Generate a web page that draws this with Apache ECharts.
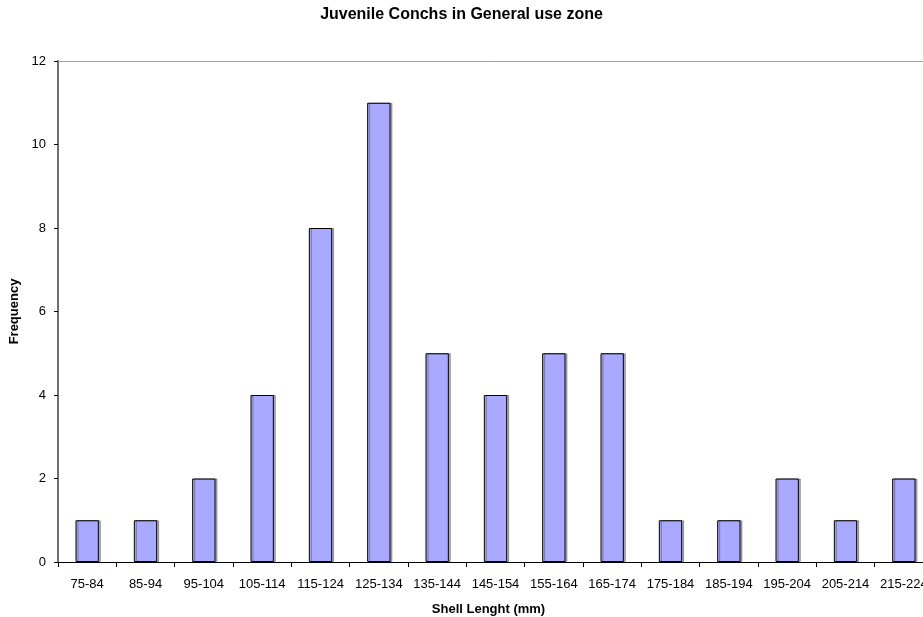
<!DOCTYPE html>
<html>
<head>
<meta charset="utf-8">
<script src="https://cdn.jsdelivr.net/npm/echarts@6/dist/echarts.min.js"></script>
<style>
  html, body { margin: 0; padding: 0; background: #fff; }
  #chart { width: 923px; height: 617px; }
</style>
</head>
<body>
<div id="chart"></div>
<script>
// Shell length classes (mm) and number of juvenile conchs in each
const sizeClasses = ['75-84', '85-94', '95-104', '105-114', '115-124', '125-134', '135-144',
  '145-154', '155-164', '165-174', '175-184', '185-194', '195-204', '205-214', '215-224'];
const frequency = [1, 1, 2, 4, 8, 11, 5, 4, 5, 5, 1, 1, 2, 1, 2];
const yTicks = { min: 0, max: 12, interval: 2 };

const FONT = 'Liberation Sans, Arial, sans-serif';
const chart = echarts.init(document.getElementById('chart'), null, { renderer: 'canvas' });

chart.setOption({
  backgroundColor: '#ffffff',
  animation: false,
  title: {
    text: 'Juvenile Conchs in General use zone',
    left: 'center',
    top: 2,
    textStyle: { fontFamily: FONT, fontSize: 16, fontWeight: 'bold', color: '#000' }
  },
  // plot area runs past the right edge of the canvas
  grid: { left: 58, width: 875, top: 61, height: 501, containLabel: false, outerBoundsMode: 'none' },
  xAxis: [
    {
      type: 'category',
      data: sizeClasses,
      name: 'Shell Lenght (mm)',
      nameLocation: 'middle',
      nameGap: 41,
      nameTextStyle: { fontFamily: FONT, fontSize: 13, fontWeight: 'bold', color: '#000', padding: [0, 14, 0, 0] },
      axisLine: { lineStyle: { color: '#000', width: 1 } },
      axisTick: { show: true, alignWithLabel: false, length: 5, lineStyle: { color: '#000' } },
      axisLabel: { fontFamily: FONT, fontSize: 13, color: '#000', margin: 16, interval: 0 },
      splitLine: { show: false }
    },
    {
      // plot area top border
      type: 'category',
      position: 'top',
      data: sizeClasses,
      axisLine: { lineStyle: { color: '#a0a0a0', width: 1 } },
      axisTick: { show: false },
      axisLabel: { show: false }
    }
  ],
  yAxis: {
    type: 'value',
    min: yTicks.min,
    max: yTicks.max,
    interval: yTicks.interval,
    name: 'Frequency',
    nameLocation: 'middle',
    nameGap: 34,
    nameRotate: 90,
    nameTextStyle: { fontFamily: FONT, fontSize: 13, fontWeight: 'bold', color: '#000' },
    axisLine: { show: true, lineStyle: { color: '#707070', width: 2 } },
    axisTick: { show: true, length: 4, lineStyle: { color: '#000' } },
    axisLabel: { fontFamily: FONT, fontSize: 13, color: '#000', margin: 12 },
    splitLine: { show: false }
  },
  series: [{
    type: 'bar',
    data: frequency,
    xAxisIndex: 0,
    barWidth: '40%',
    itemStyle: {
      color: '#a9a9ff',
      borderColor: '#000',
      borderWidth: 1,
      shadowColor: 'rgba(0,0,0,0.3)',
      shadowOffsetX: 2,
      shadowOffsetY: 0,
      shadowBlur: 0
    }
  }]
});
</script>
</body>
</html>
